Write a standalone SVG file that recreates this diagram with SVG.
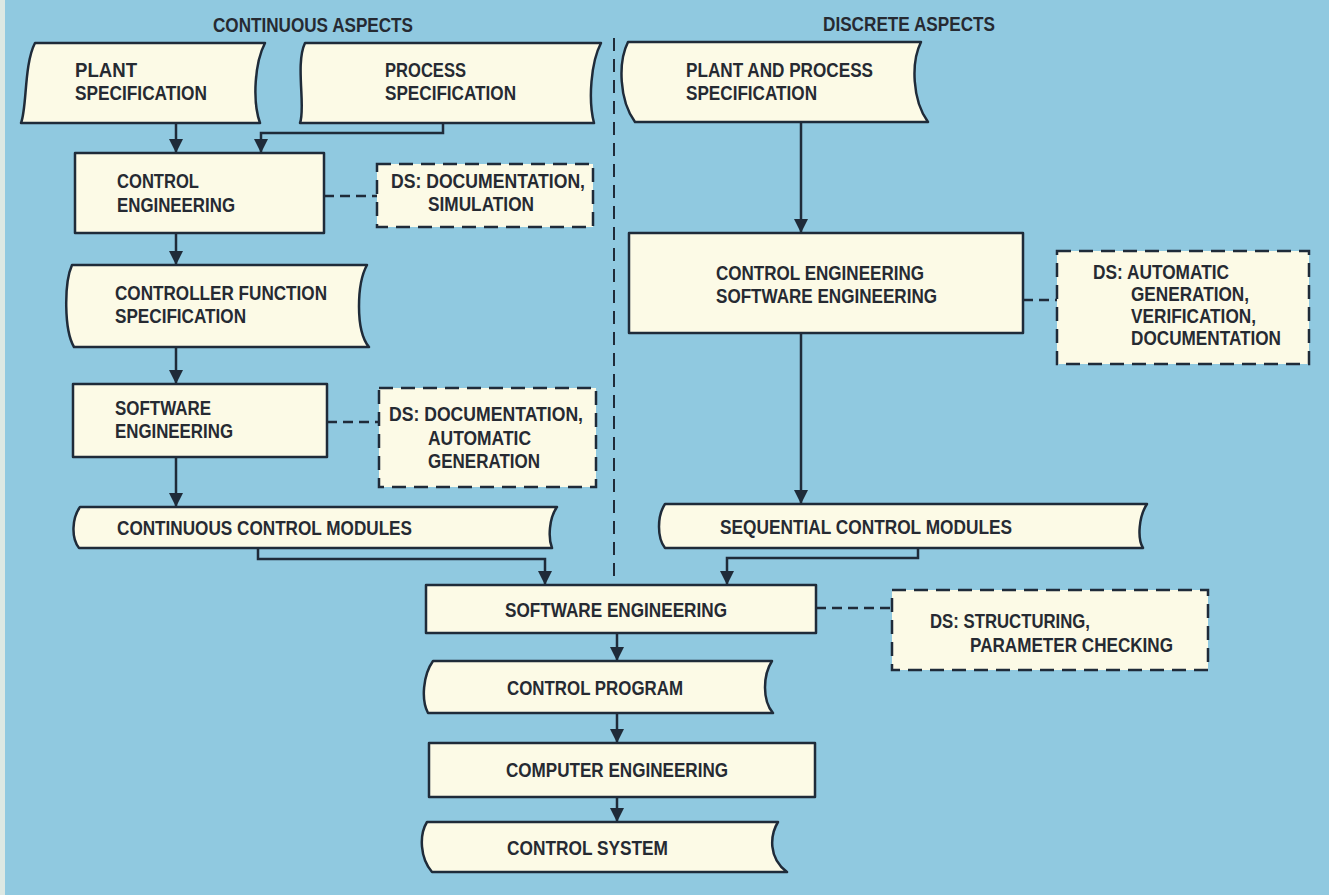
<svg xmlns="http://www.w3.org/2000/svg" width="1329" height="895" viewBox="0 0 1329 895">
<style>
.bg{fill:#90c9e0}
.n{fill:#fcfae6;stroke:#1f2b39;stroke-width:2.5;stroke-linejoin:round}
.ds{fill:#fcfae6;stroke:#1f2b39;stroke-width:2.5;stroke-dasharray:14 8}
.c{fill:none;stroke:#1f2b39;stroke-width:2.5}
.cd{fill:none;stroke:#1f2b39;stroke-width:2.5;stroke-dasharray:10 6}
.div{fill:none;stroke:#1f2b39;stroke-width:2;stroke-dasharray:13 8}
text{font-family:"Liberation Sans",Arial,sans-serif;font-weight:bold;font-size:20.5px;fill:#262a32}
</style>
<defs>
<marker id="ah" markerUnits="userSpaceOnUse" markerWidth="14" markerHeight="15" refX="14" refY="7" orient="auto">
<path d="M0,0 L14,7 L0,14 Z" fill="#1f2b39"/>
</marker>
</defs>
<rect class="bg" x="0" y="0" width="1329" height="895"/>
<rect x="0" y="0" width="5" height="895" fill="#dde8e3"/>

<g id="headings">
<text x="213" y="32" textLength="200" lengthAdjust="spacingAndGlyphs">CONTINUOUS ASPECTS</text>
<text x="823" y="31" textLength="172" lengthAdjust="spacingAndGlyphs">DISCRETE ASPECTS</text>
</g>

<g id="connectors">
<path class="div" d="M614,38 V592"/>
<path class="c" d="M176,123 V153" marker-end="url(#ah)"/>
<path class="c" d="M443,123 V133 H261 V153" marker-end="url(#ah)"/>
<path class="c" d="M176,233 V265" marker-end="url(#ah)"/>
<path class="c" d="M176,347 V384" marker-end="url(#ah)"/>
<path class="c" d="M176,457 V507" marker-end="url(#ah)"/>
<path class="c" d="M258,548 V559 H545 V585" marker-end="url(#ah)"/>
<path class="c" d="M801,122 V233" marker-end="url(#ah)"/>
<path class="c" d="M801,333 V504" marker-end="url(#ah)"/>
<path class="c" d="M918,548 V558 H727 V585" marker-end="url(#ah)"/>
<path class="c" d="M617,633 V661" marker-end="url(#ah)"/>
<path class="c" d="M617,713 V743" marker-end="url(#ah)"/>
<path class="c" d="M617,797 V822" marker-end="url(#ah)"/>
<path class="cd" d="M324,196 H377"/>
<path class="cd" d="M327,422 H379"/>
<path class="cd" d="M1023,300 H1057"/>
<path class="cd" d="M816,608 H892"/>
</g>

<g id="plant-spec">
<path class="n" d="M35,43 H265 C255,62 252,100 260,123 H21 C27,108 24,64 35,43 Z"/>
<text x="75" y="77" textLength="62" lengthAdjust="spacingAndGlyphs">PLANT</text>
<text x="75" y="100" textLength="132" lengthAdjust="spacingAndGlyphs">SPECIFICATION</text>
</g>

<g id="process-spec">
<path class="n" d="M305,43 H601 C591,62 588,100 594,123 H300 C306,108 295,64 305,43 Z"/>
<text x="385" y="77" textLength="81" lengthAdjust="spacingAndGlyphs">PROCESS</text>
<text x="385" y="100" textLength="131" lengthAdjust="spacingAndGlyphs">SPECIFICATION</text>
</g>

<g id="control-eng">
<rect class="n" x="75" y="153" width="249" height="80"/>
<text x="117" y="188" textLength="82" lengthAdjust="spacingAndGlyphs">CONTROL</text>
<text x="117" y="212" textLength="118" lengthAdjust="spacingAndGlyphs">ENGINEERING</text>
</g>

<g id="ds-doc-sim">
<rect class="ds" x="377" y="164" width="216" height="63"/>
<text x="391" y="188" textLength="194" lengthAdjust="spacingAndGlyphs">DS: DOCUMENTATION,</text>
<text x="428" y="211" textLength="106" lengthAdjust="spacingAndGlyphs">SIMULATION</text>
</g>

<g id="controller-func-spec">
<path class="n" d="M72,265 H367 C357,283 355,330 369,347 H74 C64,330 64,283 72,265 Z"/>
<text x="115" y="300" textLength="212" lengthAdjust="spacingAndGlyphs">CONTROLLER FUNCTION</text>
<text x="115" y="323" textLength="131" lengthAdjust="spacingAndGlyphs">SPECIFICATION</text>
</g>

<g id="software-eng-left">
<rect class="n" x="73" y="384" width="254" height="73"/>
<text x="115" y="415" textLength="96" lengthAdjust="spacingAndGlyphs">SOFTWARE</text>
<text x="115" y="438" textLength="118" lengthAdjust="spacingAndGlyphs">ENGINEERING</text>
</g>

<g id="ds-doc-auto">
<rect class="ds" x="379" y="388" width="217" height="99"/>
<text x="389" y="421" textLength="194" lengthAdjust="spacingAndGlyphs">DS: DOCUMENTATION,</text>
<text x="428" y="445" textLength="103" lengthAdjust="spacingAndGlyphs">AUTOMATIC</text>
<text x="428" y="468" textLength="112" lengthAdjust="spacingAndGlyphs">GENERATION</text>
</g>

<g id="continuous-modules">
<path class="n" d="M80,507 H557 C549,518 548,538 552,548 H79 C71,538 72,518 80,507 Z"/>
<text x="117" y="535" textLength="295" lengthAdjust="spacingAndGlyphs">CONTINUOUS CONTROL MODULES</text>
</g>

<g id="plant-process-spec">
<path class="n" d="M628,42 H921 C911,62 912,100 928,122 H635 C619,100 618,62 628,42 Z"/>
<text x="686" y="77" textLength="187" lengthAdjust="spacingAndGlyphs">PLANT AND PROCESS</text>
<text x="686" y="100" textLength="131" lengthAdjust="spacingAndGlyphs">SPECIFICATION</text>
</g>

<g id="control-software-eng">
<rect class="n" x="629" y="233" width="394" height="100"/>
<text x="716" y="280" textLength="208" lengthAdjust="spacingAndGlyphs">CONTROL ENGINEERING</text>
<text x="716" y="303" textLength="221" lengthAdjust="spacingAndGlyphs">SOFTWARE ENGINEERING</text>
</g>

<g id="ds-auto-verif">
<rect class="ds" x="1057" y="251" width="252" height="113"/>
<text x="1093" y="279" textLength="136" lengthAdjust="spacingAndGlyphs">DS: AUTOMATIC</text>
<text x="1131" y="301" textLength="118" lengthAdjust="spacingAndGlyphs">GENERATION,</text>
<text x="1131" y="323" textLength="125" lengthAdjust="spacingAndGlyphs">VERIFICATION,</text>
<text x="1131" y="345" textLength="150" lengthAdjust="spacingAndGlyphs">DOCUMENTATION</text>
</g>

<g id="sequential-modules">
<path class="n" d="M665,504 H1147 C1139,516 1137,538 1143,548 H665 C657,538 657,516 665,504 Z"/>
<text x="720" y="534" textLength="292" lengthAdjust="spacingAndGlyphs">SEQUENTIAL CONTROL MODULES</text>
</g>

<g id="software-eng">
<rect class="n" x="426" y="585" width="390" height="48"/>
<text x="505" y="617" textLength="222" lengthAdjust="spacingAndGlyphs">SOFTWARE ENGINEERING</text>
</g>

<g id="ds-struct">
<rect class="ds" x="892" y="590" width="316" height="80"/>
<text x="930" y="628" textLength="160" lengthAdjust="spacingAndGlyphs">DS: STRUCTURING,</text>
<text x="970" y="652" textLength="203" lengthAdjust="spacingAndGlyphs">PARAMETER CHECKING</text>
</g>

<g id="control-program">
<path class="n" d="M433,661 H772 C763,675 762,700 773,713 H428 C421,700 423,675 433,661 Z"/>
<text x="507" y="695" textLength="176" lengthAdjust="spacingAndGlyphs">CONTROL PROGRAM</text>
</g>

<g id="computer-eng">
<rect class="n" x="429" y="743" width="386" height="54"/>
<text x="506" y="777" textLength="222" lengthAdjust="spacingAndGlyphs">COMPUTER ENGINEERING</text>
</g>

<g id="control-system">
<path class="n" d="M427,822 H778 C770,835 768,858 787,872 H432 C420,858 419,835 427,822 Z"/>
<text x="507" y="855" textLength="161" lengthAdjust="spacingAndGlyphs">CONTROL SYSTEM</text>
</g>
</svg>
